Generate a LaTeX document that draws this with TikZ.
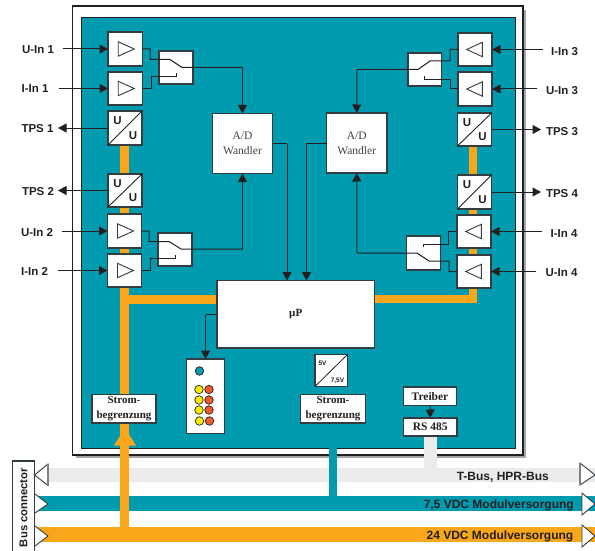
\documentclass[tikz,border=0pt]{standalone}
\usepackage{fontspec}
\setmainfont{Liberation Serif}
\setsansfont{Liberation Sans}
\usetikzlibrary{arrows.meta,calc}
\definecolor{teal1}{RGB}{0,155,175}
\definecolor{orange1}{RGB}{250,166,26}
\definecolor{grayb}{RGB}{235,235,235}
\definecolor{ink}{RGB}{35,31,32}
\definecolor{edgec}{RGB}{50,60,65}
\definecolor{yell}{RGB}{255,237,0}
\definecolor{redo}{RGB}{240,90,40}
\tikzset{
  box/.style={draw=edgec,line width=1.1pt,fill=white,inner sep=0pt,outer sep=0pt},
  wire/.style={draw=ink,line width=1pt},
  arr/.style={wire,-{Triangle[length=8.5pt,width=9pt]}},
  lbl/.style={font=\sffamily\bfseries\fontsize{11.5}{12}\selectfont,text=ink,inner sep=0pt,yshift=-0.8pt},
  uu/.style={font=\sffamily\bfseries\fontsize{11.5}{12}\selectfont,text=ink,inner sep=0pt},
  ser/.style={font=\rmfamily\fontsize{11.5}{15}\selectfont,text=ink!85,align=center,inner sep=0pt},
  serb/.style={font=\rmfamily\bfseries\fontsize{11}{14.5}\selectfont,text=ink,align=center,inner sep=0pt},
  serc/.style={font=\rmfamily\bfseries\fontsize{11.5}{14}\selectfont,text=ink,align=center,inner sep=0pt},
  busl/.style={font=\sffamily\bfseries\fontsize{12}{12}\selectfont,text=ink,inner sep=0pt,anchor=east},
  tri/.style={draw=edgec,line width=0.9pt,fill=white},
  led/.style={draw=ink,line width=0.7pt,circle,minimum size=8.5pt,inner sep=0pt},
  small/.style={font=\sffamily\bfseries\fontsize{6.5}{7}\selectfont,text=ink,inner sep=0pt},
}
\newcommand{\bx}[5]{\node[box,minimum width=#4pt-#2pt,minimum height=#5pt-#3pt,anchor=north west] (#1) at (#2,#3) {};}
\newcommand{\ampR}[5]{\bx{#1}{#2}{#3}{#4}{#5}\draw[draw=edgec,line width=0.9pt] ($(#1.center)+(-7,-7.2)$) -- ($(#1.center)+(9,0)$) -- ($(#1.center)+(-7,7.2)$) -- cycle;}
\newcommand{\ampL}[5]{\bx{#1}{#2}{#3}{#4}{#5}\draw[draw=edgec,line width=0.9pt] ($(#1.center)+(7.3,-7.2)$) -- ($(#1.center)+(-8.3,0)$) -- ($(#1.center)+(7.3,7.2)$) -- cycle;}
\newcommand{\conv}[5]{\bx{#1}{#2}{#3}{#4}{#5}\draw[draw=ink,line width=0.9pt] (#1.south west) -- (#1.north east);
  \node[uu] at ($(#1.center)+(-7.5,-7)$) {U}; \node[uu] at ($(#1.center)+(8,7.5)$) {U};}
\begin{document}
\begin{tikzpicture}[x=1pt,y=-1pt]
\useasboundingbox (0,0) rectangle (595,551);
\fill[gray!70] (76,10) rectangle (526,458);
\draw[draw=ink,line width=1.2pt,fill=white] (72.5,6) rectangle (523,455);
\draw[draw=ink,line width=0.8pt,fill=teal1] (81.5,17.5) rectangle (515,448);
% orange power rails
\fill[orange1] (120,145) rectangle (129,527);
\fill[orange1] (129,295) rectangle (217,304);
\fill[orange1] (469,146) rectangle (477,303);
\fill[orange1] (375,295) rectangle (477,303);
\fill[orange1] (125,428) -- (136,445.5) -- (114,445.5) -- cycle;
% buses
\fill[grayb] (48,468) rectangle (595,482);
\fill[grayb] (424,436) rectangle (437,468);
\fill[teal1] (35,496) rectangle (595,511);
\fill[teal1] (329,448) rectangle (337,496);
\fill[orange1] (35,527) rectangle (595,542);
\fill[orange1] (120,445) rectangle (129,527);
% left blocks
\ampR{a1}{108}{32}{142.5}{66}
\ampR{a2}{108}{72}{142.5}{105}
\conv{c1}{108}{111}{142}{145}
\conv{c2}{108}{174}{142}{207}
\ampR{a3}{107.5}{214}{141.5}{248}
\ampR{a4}{107.5}{254}{141.5}{287}
% right blocks
\ampL{b1}{458}{33}{492}{66}
\ampL{b2}{458}{72}{492}{106}
\conv{d1}{457.5}{113}{491.5}{146}
\conv{d2}{457.5}{175}{491.5}{209}
\ampL{b3}{457}{215}{491}{248}
\ampL{b4}{457}{255}{491}{288}
% switches
\bx{s1}{159}{51}{193}{84}
\bx{s2}{158}{233}{192}{266}
\bx{s3}{408}{53}{441.5}{86}
\bx{s4}{406.5}{236}{440.5}{270}
% A/D
\bx{ad1}{212.5}{113.5}{272.5}{173.5}
\node[ser] at (ad1.center) {A/D\\Wandler};
\bx{ad2}{326.5}{113}{387}{173}
\node[ser] at (ad2.center) {A/D\\Wandler};
% uP
\bx{up}{217}{280.5}{374.5}{348}
\node[serb] at (up.center) {µP};
% LEDs
\bx{ledb}{186.5}{359}{224.5}{433.5}
\node[led,fill=teal1] (l0) at (199.5,371) {};
\foreach \n/\y/\xa in {1/389.5/199,2/400/199,3/410/199,4/421/199.5}{
  \node[led,fill=yell] (ly\n) at (\xa,\y) {};
  \node[led,fill=redo] (lr\n) at (\xa+10,\y) {};
}
% other boxes
\bx{sb1}{92}{394.5}{156}{423}
\node[serb] at (sb1.center) {Strom-\\begrenzung};
\bx{sb2}{300.5}{394.5}{365.5}{423}
\node[serb] at (sb2.center) {Strom-\\begrenzung};
\bx{v5}{315}{354.5}{347.5}{386.5}
\draw[draw=ink,line width=0.8pt] (v5.south west) -- (v5.north east);
\node[small] at (322.5,363.5) {5V};
\node[small] at (337.5,380.5) {7,5V};
\bx{tr}{403.5}{387}{456.5}{405.5}
\node[serc] at (tr.center) {Treiber};
\bx{rs}{403.5}{418}{457}{436}
\node[serc] at (rs.center) {RS 485};
\draw[arr] (tr) -- (rs);
% labels and external signals
\node[lbl] (tu1) at (38,49) {U-In 1};
\node[lbl] (ti1) at (35,88) {I-In 1};
\node[lbl] (tt1) at (37.5,128) {TPS 1};
\node[lbl] (tt2) at (38,191) {TPS 2};
\node[lbl] (tu2) at (37,232) {U-In 2};
\node[lbl] (ti2) at (34.5,271) {I-In 2};
\node[lbl] (ri3) at (564.5,50.5) {I-In 3};
\node[lbl] (ru3) at (562,90) {U-In 3};
\node[lbl] (rt3) at (562,131) {TPS 3};
\node[lbl] (rt4) at (562,193) {TPS 4};
\node[lbl] (ri4) at (564,233) {I-In 4};
\node[lbl] (ru4) at (561.5,272) {U-In 4};
\draw[arr] ($(a1.west -| tu1.east)+(9,0)$) -- (a1.west);
\draw[arr] ($(a2.west -| ti1.east)+(10,0)$) -- (a2.west);
\draw[arr] (c1.west) -- (58,128);
\draw[arr] (c2.west) -- (58,190.5);
\draw[arr] ($(a3.west -| tu2.east)+(9,0)$) -- (a3.west);
\draw[arr] ($(a4.west -| ti2.east)+(10,0)$) -- (a4.west);
\draw[arr] ($(b1.east -| ri3.west)+(-8,0)$) -- (b1.east);
\draw[arr] ($(b2.east -| ru3.west)+(-9,0)$) -- (b2.east);
\draw[arr] (d1.east) -- (541,129.5);
\draw[arr] (d2.east) -- (541,192);
\draw[arr] ($(b3.east -| ri4.west)+(-8,0)$) -- (b3.east);
\draw[arr] ($(b4.east -| ru4.west)+(-9,0)$) -- (b4.east);
% switch wiring
\draw[wire] (a1.east) -- (150,49) -- (150,59.5) -- (170,59.5) -- (182,67.5) -- (242.5,67.5);
\draw[arr] (242.5,67.5) -- (ad1.north);
\draw[wire] (a2.east) -- (151,88.5) -- (151,76.5) -- (176,76.5) -- (176,73);
\draw[wire] (a3.east) -- (149,231) -- (149,241.5) -- (169,241.5) -- (181,249) -- (242.5,249);
\draw[arr] (242.5,249) -- (ad1.south);
\draw[wire] (a4.east) -- (150,270.5) -- (150,258.5) -- (175,258.5) -- (175,255);
\draw[wire] (b1.west) -- (450,49.5) -- (450,61) -- (430,61) -- (418,69.5) -- (357,69.5);
\draw[arr] (357,69.5) -- (ad2.north);
\draw[wire] (b2.west) -- (450,89) -- (450,79.5) -- (424,79.5) -- (424,76);
\draw[wire] (b3.west) -- (448.5,231.5) -- (448.5,244) -- (423.5,244) -- (423.5,247);
\draw[wire] (b4.west) -- (449,271.5) -- (449,261) -- (429,261) -- (417,253) -- (357,253);
\draw[arr] (357,253) -- (ad2.south);
% A/D to uP
\draw[wire] (ad1.east) -- (287,143.5);
\draw[arr] (287,143.5) -- (287,280.5);
\draw[wire] (ad2.west) -- (306.5,143);
\draw[arr] (306.5,143) -- (306.5,280.5);
% uP to LED
\draw[wire] (217,314.5) -- (205.5,314.5);
\draw[arr] (205.5,314.5) -- (205.5,359);
% bus connector
\bx{bc}{12.5}{461}{34.5}{553}
\node[font=\sffamily\bfseries\fontsize{11.3}{12}\selectfont,text=ink,rotate=90,inner sep=0pt] at (23.5,507.5) {Bus connector};
% bus end triangles
\draw[tri] (48,464) -- (34.5,475) -- (48,485.5) -- cycle;
\draw[gray,line width=1.2pt] (48,464) -- (48,485.5);
\fill[white] (35,494) -- (48,504) -- (35,513) -- cycle;
\draw[tri] (35,494) -- (48,504) -- (35,513);
\fill[white] (35,526) -- (48,536) -- (35,546) -- cycle;
\draw[tri] (35,526) -- (48,536) -- (35,546);
\draw[tri] (580,463) -- (595,475) -- (580,485) -- cycle;
\draw[gray,line width=1.2pt] (580,463) -- (580,485);
\draw[tri] (582,493) -- (595,504) -- (582,515) -- cycle;
\draw[tri] (582,525) -- (595,536) -- (582,547) -- cycle;
\node[busl] at (549,477) {T-Bus, HPR-Bus};
\node[busl] at (574,505) {7,5 VDC Modulversorgung};
\node[busl] at (573.5,536) {24 VDC Modulversorgung};
\end{tikzpicture}
\end{document}
